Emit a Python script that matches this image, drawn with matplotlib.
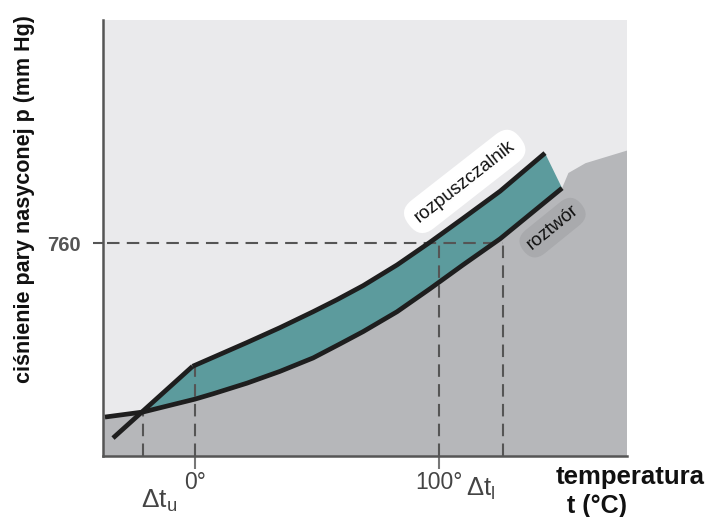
import matplotlib
matplotlib.use("Agg")
import matplotlib.pyplot as plt

# ---- data (t in °C, p in mm Hg, schematic) ----
solvent_ice_t = [-33.6, -1.0]
solvent_ice_p = [64, 320]
solvent_liq_t = [-1.0, 7.4, 21.3, 34.8, 48.4, 58.2, 68.9, 82.8, 96.3, 109.8, 125.0, 143.4]
solvent_liq_p = [320, 352, 405, 458, 515, 558, 608, 682, 763, 848, 945, 1081]
solution_t = [-36.9, -21.3, 0.0, 7.4, 21.3, 34.8, 48.4, 59.4, 68.9, 82.8, 96.3, 109.8, 125.0, 150.4]
solution_p = [139, 157, 203, 222, 260, 302, 350, 400, 444, 515, 597, 682, 775, 956]
cross_t, cross_p = -21.3, 158
grey_edge_t = [153.0, 160.0, 177.0]
grey_edge_p = [1010, 1045, 1090]
x_lim = (-37.7, 177.0)
y_lim = (0, 1556)
p_ref = 760
dash_t = [-21.3, 0.0, 100.0, 126.0]
dash_top = [158, 320, 760, 760]
xtick_vals = [0, 100]
xtick_labels = ["0°", "100°"]
ytick_vals = [760]
ytick_labels = ["760"]

narrow = ["Liberation Sans Narrow", "Liberation Sans", "DejaVu Sans"]
arial = ["Liberation Sans", "DejaVu Sans"]

fig = plt.figure(figsize=(7.15, 5.17), dpi=100)
ax = fig.add_axes([103/715, 1-456/517, 524/715, 436/517])
ax.set_xlim(*x_lim)
ax.set_ylim(*y_lim)
ax.set_facecolor("#eaeaec")

# grey region below solution curve
gx = [x_lim[0]] + solution_t + grey_edge_t + [x_lim[1], x_lim[0]]
gy = [solution_p[0]] + solution_p + grey_edge_p + [y_lim[0], y_lim[0]]
ax.fill(gx, gy, color="#b6b7ba", lw=0, zorder=1)

# teal band
up_t = [cross_t] + solvent_liq_t
up_p = [cross_p] + solvent_liq_p
lo = [(t, p) for t, p in zip(solution_t, solution_p) if t >= cross_t]
lo_t = [a for a, b in lo][::-1]
lo_p = [b for a, b in lo][::-1]
ax.fill(up_t + lo_t, up_p + lo_p, color="#5c9b9d", lw=0, zorder=2)

# dashed guides
dkw = dict(color="#555555", lw=1.5, ls=(0, (6, 3.5)), zorder=3)
ax.plot([x_lim[0] + 1.5, dash_t[3]], [p_ref, p_ref], **dkw)
for t, top in zip(dash_t, dash_top):
    ax.plot([t, t], [0, top], **dkw)

# curve labels (drawn under curves so lines stay visible)
ax.text(110.5, 980, "rozpuszczalnik", rotation=38, ha="center", va="center",
        fontsize=13.5, color="#111111", zorder=3.5, rotation_mode="anchor", family=arial,
        bbox=dict(boxstyle="round,pad=0.5,rounding_size=0.9", fc="white", ec="none"))
ax.text(146.5, 815, "roztwór", rotation=39, ha="center", va="center",
        fontsize=13.5, color="#111111", zorder=3.5, rotation_mode="anchor", family=arial,
        bbox=dict(boxstyle="round,pad=0.35,rounding_size=0.8", fc="#a9aaad", ec="none"))

# curves
ckw = dict(color="#1e1e1e", lw=3.4, solid_capstyle="butt", solid_joinstyle="round", zorder=4)
ax.plot(solvent_ice_t, solvent_ice_p, **ckw)
ax.plot(solvent_liq_t, solvent_liq_p, **ckw)
ax.plot(solution_t, solution_p, **ckw)

# axes styling
for s in ["top", "right"]:
    ax.spines[s].set_visible(False)
for s in ["left", "bottom"]:
    ax.spines[s].set_color("#555555")
    ax.spines[s].set_linewidth(1.8)
ax.set_xticks(xtick_vals)
ax.set_xticklabels(xtick_labels, fontsize=16.5, color="#444444", family=narrow)
ax.set_yticks(ytick_vals)
ax.set_yticklabels(ytick_labels, fontsize=14.5, color="#555555", fontweight="bold", family=narrow)
ax.tick_params(axis="x", length=9, width=1.5, color="#777777", pad=1.5)
ax.tick_params(axis="y", length=7, width=1.5, color="#555555", pad=9)

# delta labels
fig.text(159/715, 1-501/517, r"$\mathregular{\Delta t_{u}}$", fontsize=19, color="#444444",
         ha="center", va="center", family=arial)
fig.text(481/715, 1-489/517, r"$\mathregular{\Delta t_{l}}$", fontsize=18.5, color="#444444",
         ha="center", va="center", family=arial)

# axis titles
fig.text(630/715, 1-477/517, "temperatura", fontsize=18.5, fontweight="bold", color="#111111",
         ha="center", va="center", family=arial)
fig.text(597/715, 1-506/517, "t (°C)", fontsize=18, fontweight="bold", color="#111111",
         ha="center", va="center", family=arial)
fig.text(25/715, 1-199/517, "ciśnienie pary nasyconej p (mm Hg)", rotation=90, fontsize=15.5,
         fontweight="bold", color="#111111", ha="center", va="center", family=arial)

fig.savefig("out.png", dpi=100)
